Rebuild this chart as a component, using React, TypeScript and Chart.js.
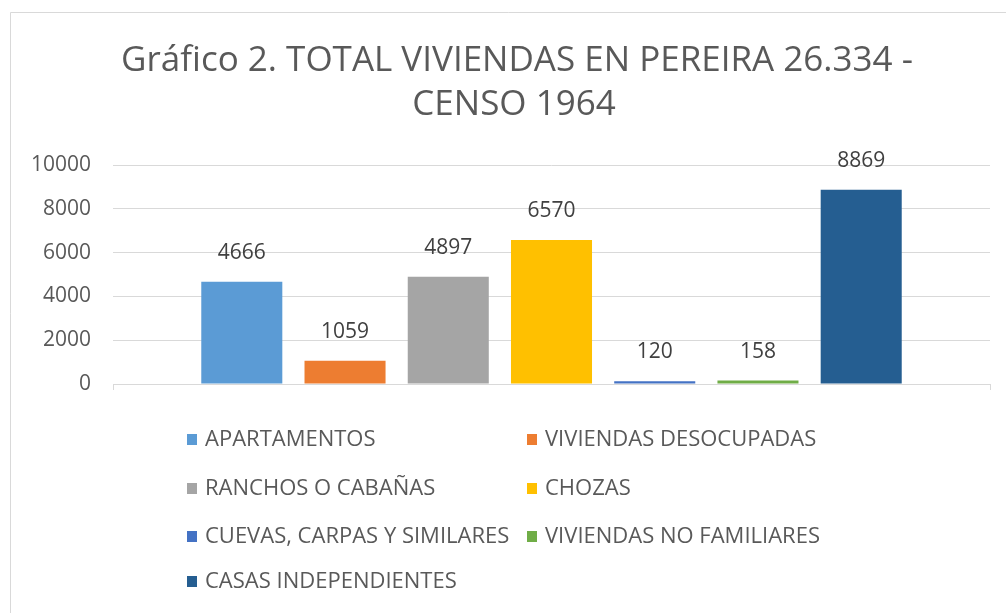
import React, { useEffect, useRef } from "react";
import { Chart, registerables } from "chart.js";

Chart.register(...registerables);

const titleLines = ["Gráfico 2. TOTAL VIVIENDAS EN PEREIRA 26.334 -", "CENSO 1964"];
const seriesNames = [
  "APARTAMENTOS",
  "VIVIENDAS DESOCUPADAS",
  "RANCHOS O CABAÑAS",
  "CHOZAS",
  "CUEVAS, CARPAS Y SIMILARES",
  "VIVIENDAS NO FAMILIARES",
  "CASAS INDEPENDIENTES",
];
const seriesValues = [4666, 1059, 4897, 6570, 120, 158, 8869];
const seriesColors = ["#5B9BD5", "#ED7D31", "#A5A5A5", "#FFC000", "#4472C4", "#70AD47", "#255E91"];
const yTicks = [0, 2000, 4000, 6000, 8000, 10000];

const FONT = "'Open Sans', 'DejaVu Sans', sans-serif";

const framePlugin = {
  id: "frame",
  beforeDraw(chart: any) {
    const ctx = chart.ctx;
    ctx.save();
    ctx.fillStyle = "#ffffff";
    ctx.fillRect(0, 0, chart.width, chart.height);
    ctx.strokeStyle = "#d9d9d9";
    ctx.lineWidth = 1;
    ctx.beginPath();
    ctx.moveTo(10.5, chart.height + 2);
    ctx.lineTo(10.5, 12.5);
    ctx.lineTo(chart.width + 2, 12.5);
    ctx.stroke();
    ctx.restore();
  },
};

const titlePlugin = {
  id: "titleText",
  afterDraw(chart: any) {
    const ctx = chart.ctx;
    ctx.save();
    ctx.fillStyle = "#595959";
    ctx.textAlign = "center";
    ctx.textBaseline = "middle";
    ctx.font = `35px ${FONT}`;
    ctx.fillText(titleLines[0], 517, 61);
    ctx.fillText(titleLines[1], 514, 105);
    ctx.restore();
  },
};

const dataLabelPlugin = {
  id: "dataLabels",
  afterDatasetsDraw(chart: any) {
    const ctx = chart.ctx;
    ctx.save();
    ctx.fillStyle = "#404040";
    ctx.textAlign = "center";
    ctx.textBaseline = "middle";
    ctx.font = `21px ${FONT}`;
    chart.data.datasets.forEach((ds: any, i: number) => {
      const meta = chart.getDatasetMeta(i);
      meta.data.forEach((bar: any, j: number) => {
        ctx.fillText(String(ds.data[j]), bar.x, bar.y - 29);
      });
    });
    ctx.restore();
  },
};

const legendPlugin = {
  id: "gridLegend",
  afterDraw(chart: any) {
    const ctx = chart.ctx;
    const colX = [187, 527];
    const rowY = [440, 489, 537, 582];
    ctx.save();
    ctx.font = `22px ${FONT}`;
    ctx.textBaseline = "middle";
    ctx.textAlign = "left";
    chart.data.datasets.forEach((ds: any, i: number) => {
      const x = colX[i % 2];
      const y = rowY[Math.floor(i / 2)];
      ctx.fillStyle = ds.backgroundColor;
      ctx.fillRect(x, y - 6, 10, 11);
      ctx.fillStyle = "#595959";
      ctx.fillText(ds.label, x + 18, y);
    });
    ctx.restore();
  },
};

export default function App() {
  const ref = useRef<HTMLCanvasElement>(null);
  useEffect(() => {
    document.body.style.margin = "0";
    const canvas = ref.current;
    if (!canvas) return;
    const chart = new Chart(canvas, {
      type: "bar",
      data: {
        labels: [""],
        datasets: seriesNames.map((name, i) => ({
          label: name,
          data: [seriesValues[i]],
          backgroundColor: seriesColors[i],
          categoryPercentage: 0.824,
          barPercentage: 0.785,
        })),
      },
      options: {
        responsive: false,
        animation: false,
        layout: { padding: { top: 165, right: 16, left: 0, bottom: 0 } },
        plugins: {
          legend: { display: false },
          title: { display: false },
          tooltip: { enabled: false },
        },
        scales: {
          x: {
            ticks: { display: false },
            grid: {
              drawOnChartArea: false,
              drawTicks: true,
              tickLength: 6,
              color: "#d9d9d9",
            },
            border: { display: true, color: "#d9d9d9" },
            afterFit: (s: any) => {
              s.height = 229;
            },
          },
          y: {
            min: 0,
            max: 10000,
            afterBuildTicks: (s: any) => {
              s.ticks = yTicks.map((v) => ({ value: v }));
            },
            ticks: {
              color: "#595959",
              font: { family: FONT, size: 21 },
              padding: 22,
              callback: (v: any) => String(v),
            },
            grid: { color: "#d9d9d9", drawTicks: false },
            border: { display: false },
            afterFit: (s: any) => {
              s.width = 113;
            },
          },
        },
      },
      plugins: [framePlugin, titlePlugin, dataLabelPlugin, legendPlugin],
    });
    return () => chart.destroy();
  }, []);
  return <canvas ref={ref} width={1006} height={613} style={{ display: "block" }} />;
}
